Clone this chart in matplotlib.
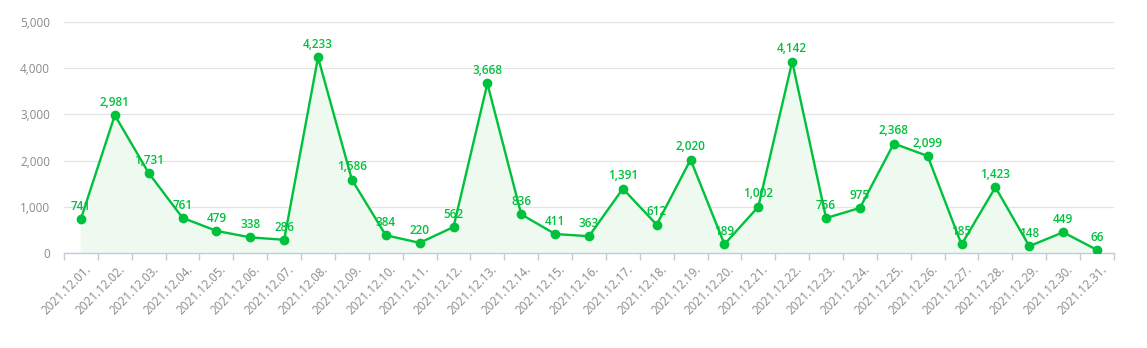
import matplotlib
matplotlib.use("Agg")
import matplotlib.pyplot as plt
import numpy as np
from matplotlib.ticker import FuncFormatter, FixedLocator

dates = [f"2021.12.{d:02d}." for d in range(1, 32)]
visits = [
    741, 2981, 1731, 761, 479, 338, 286, 4233, 1586, 384,
    220, 562, 3668, 836, 411, 363, 1391, 612, 2020, 189,
    1002, 4142, 756, 975, 2368, 2099, 185, 1423, 148, 449, 66
]

green = "#00c13c"
axis_color = "#c4cbdc"
label_color = "#8a8a8a"

plt.rcParams["font.family"] = ["Open Sans", "DejaVu Sans"]

fig = plt.figure(figsize=(11.47, 3.48), dpi=100)
ax = fig.add_axes([0.0558, 0.273, 0.9154, 0.664])

x = np.arange(len(visits))
ax.fill_between(x, visits, 0, color="#eef9f0", zorder=1)
ax.plot(x, visits, color=green, linewidth=1.7, marker="o",
        markersize=6, zorder=3)

for xi, v in zip(x, visits):
    ax.annotate(f"{v:,}", (xi, v), xytext=(0, 4.5), textcoords="offset points",
                ha="center", va="bottom", fontsize=8.5, color=green,
                fontweight="semibold", zorder=4)

ax.set_xlim(-0.5, len(visits) - 0.5)
ax.set_ylim(0, 5000)
ax.set_yticks(range(0, 5001, 1000))
ax.yaxis.set_major_formatter(FuncFormatter(lambda v, p: f"{int(v):,}"))
ax.grid(axis="y", color="#e3e3e3", linewidth=0.9, zorder=0)
ax.set_axisbelow(True)

# category boundaries get the tick marks, labels sit at the centers
ax.xaxis.set_major_locator(FixedLocator(np.arange(-0.5, len(visits), 1.0)))
ax.xaxis.set_major_formatter(FuncFormatter(lambda v, p: ""))
ax.tick_params(axis="x", which="major", length=5, color=axis_color, width=1)
ax.set_xticks(x + 0.1, minor=True)
ax.set_xticklabels(dates, minor=True, rotation=45, ha="right",
                   rotation_mode="anchor", fontsize=8.5, color=label_color)
ax.tick_params(axis="x", which="minor", length=0, pad=7)
ax.tick_params(axis="y", length=0, labelsize=8.5, labelcolor=label_color, pad=10)

for side in ["top", "right", "left"]:
    ax.spines[side].set_visible(False)
ax.spines["bottom"].set_color(axis_color)
ax.spines["bottom"].set_linewidth(1)

fig.savefig("out.png", dpi=100)
